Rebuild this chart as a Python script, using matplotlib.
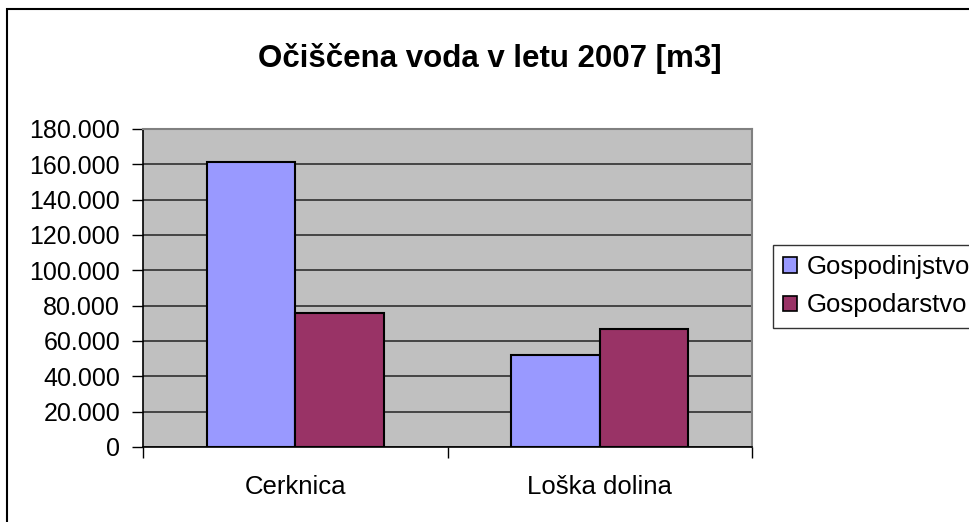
import matplotlib
matplotlib.use("Agg")
import matplotlib.pyplot as plt
import matplotlib.patches as mpatches
from matplotlib.ticker import FuncFormatter, MultipleLocator
import numpy as np

plt.rcParams['font.family'] = ['Liberation Sans', 'DejaVu Sans']

categories = ["Cerknica", "Loška dolina"]
series_names = ["Gospodinjstvo", "Gospodarstvo"]
gospodinjstvo = [161500, 51900]
gospodarstvo = [75800, 66600]
colors = ["#9999FF", "#993366"]
title = "Očiščena voda v letu 2007 [m3]"

W, H = 969, 522
fig = plt.figure(figsize=(W / 100, H / 100), dpi=100)
ax = fig.add_axes([143 / W, 1 - 447 / H, (752 - 143) / W, (447 - 129) / H])
ax.set_facecolor("#C0C0C0")

x = np.arange(len(categories))
bw = 0.29
for i, (vals, c) in enumerate(zip([gospodinjstvo, gospodarstvo], colors)):
    ax.bar(x + (i - 0.5) * bw, vals, width=bw, color=c, edgecolor="black",
           linewidth=1.5, label=series_names[i], zorder=3)

ax.set_xlim(-0.5, len(categories) - 0.5)
ax.set_ylim(0, 180000)
ax.yaxis.set_major_locator(MultipleLocator(20000))
ax.yaxis.set_major_formatter(FuncFormatter(lambda v, p: f"{int(v):,}".replace(",", ".")))
ax.grid(axis="y", color="#3a3a3a", linewidth=1.3, zorder=1)
ax.set_axisbelow(True)

ax.set_xticks(x)
ax.set_xticklabels(categories, fontsize=18.5)
ax.tick_params(axis="x", length=0, pad=20)
ax.set_xticks(np.arange(-0.5, len(categories)), minor=True)
ax.tick_params(axis="x", which="minor", length=8, width=1, color="black", direction="out")
ax.tick_params(axis="y", labelsize=18, length=8, width=1, direction="out", pad=8.5)

for s in ["left", "bottom"]:
    ax.spines[s].set_color("black")
    ax.spines[s].set_linewidth(1.2)
for s in ["top", "right"]:
    ax.spines[s].set_color("#808080")
    ax.spines[s].set_linewidth(1.5)

fig.text(490 / W, 1 - 58 / H, title, ha="center", va="center", fontsize=22.5, fontweight="bold")

handles = [mpatches.Patch(facecolor=c, edgecolor="black", linewidth=1.2) for c in colors]
leg = fig.legend(handles, series_names, loc="upper left",
                 bbox_to_anchor=(773 / W, 1 - 245 / H), fontsize=18.5,
                 frameon=True, fancybox=False, handlelength=0.55, handleheight=0.55,
                 handletextpad=0.35, borderpad=0.4, labelspacing=0.55, borderaxespad=0)
leg.get_frame().set_edgecolor("black")
leg.get_frame().set_linewidth(1.0)

frame = mpatches.Rectangle((7 / W, 1 - 600 / H), 1.2, (600 - 9) / H, transform=fig.transFigure,
                           fill=False, edgecolor="black", linewidth=1.5, clip_on=False)
fig.patches.append(frame)

fig.savefig("out.png", dpi=100, facecolor="white")
